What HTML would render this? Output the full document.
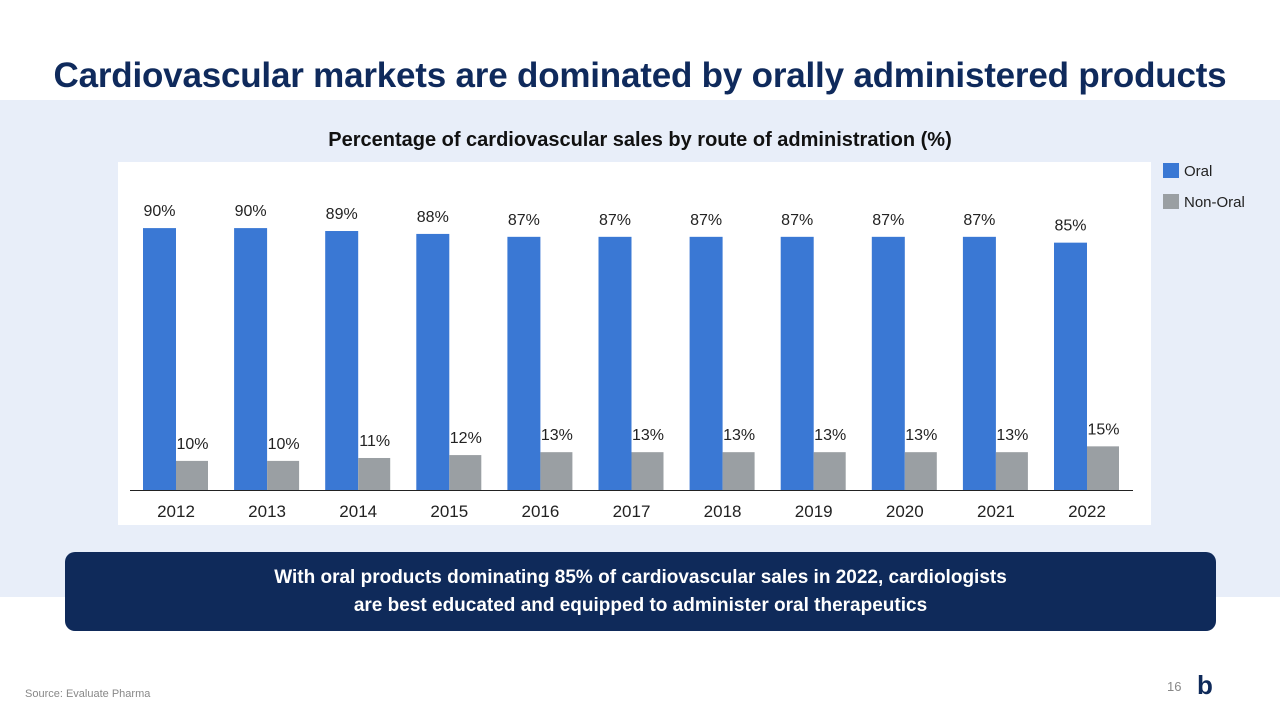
<!DOCTYPE html>
<html><head><meta charset="utf-8"><style>
body{margin:0;width:1280px;height:720px;background:#fff;position:relative;overflow:hidden;font-family:"Liberation Sans",Carlito,sans-serif}
.abs{position:absolute}
</style></head><body>
<div class="abs" style="left:0;width:1280px;top:56px;text-align:center;font-size:35px;font-weight:bold;color:#0f2a5c;letter-spacing:-0.2px">Cardiovascular markets are dominated by orally administered products</div>
<div class="abs" style="left:0;top:100px;width:1280px;height:497px;background:#e8eef9"></div>
<div class="abs" style="left:0;width:1280px;top:129px;text-align:center;font-size:20px;font-weight:bold;color:#111">Percentage of cardiovascular sales by route of administration (%)</div>
<svg class="abs" style="left:0;top:0" width="1280" height="720">
<rect x="118" y="162" width="1033" height="363" fill="#fff"></rect>
<g id="bars"></g>
<line x1="130" y1="490.5" x2="1133" y2="490.5" stroke="#222" stroke-width="1"></line>
<rect x="1163" y="163" width="16" height="15" fill="#3a78d4"></rect>
<text x="1184" y="176" font-size="15" fill="#222">Oral</text>
<rect x="1163" y="194" width="16" height="15" fill="#9a9fa3"></rect>
<text x="1184" y="207" font-size="15" fill="#222">Non-Oral</text>
</svg>
<div class="abs" style="left:65px;top:552px;width:1151px;height:79px;background:#0f2a5a;border-radius:10px;color:#fff;font-weight:bold;font-size:19px;text-align:center;line-height:28px;box-sizing:border-box;padding-top:12px">With oral products dominating 85% of cardiovascular sales in 2022, cardiologists<br>are best educated and equipped to administer oral therapeutics</div>
<div class="abs" style="left:25px;top:688px;font-size:11px;color:#888">Source: Evaluate Pharma</div>
<div class="abs" style="left:1167px;top:679px;font-size:13px;color:#888">16</div>
<div class="abs" style="left:1197px;top:670px;font-size:26px;font-weight:bold;color:#0f2a5a">b</div>
<script>
const categories=["2012","2013","2014","2015","2016","2017","2018","2019","2020","2021","2022"];
const oral=[90,90,89,88,87,87,87,87,87,87,85];
const nonOral=[10,10,11,12,13,13,13,13,13,13,15];
const g=document.getElementById('bars');
const NS='http://www.w3.org/2000/svg';
const base=490, pxPer=2.91, x0=143, step=91.1, bw=33;
const y=v=>base-v*pxPer;
function mk(t,a){const e=document.createElementNS(NS,t);for(const k in a)e.setAttribute(k,a[k]);g.appendChild(e);return e;}
categories.forEach((c,i)=>{
  const x=x0+i*step;
  const r1=mk('rect',{x:x,y:y(oral[i]),width:bw,height:base-y(oral[i]),fill:'#3a78d4'});
  
  
  const r2=mk('rect',{x:x+bw,y:y(nonOral[i]),width:bw-1,height:base-y(nonOral[i]),fill:'#9a9fa3'});
  
  
  const t1=mk('text',{x:x+bw/2,y:y(oral[i])-12,'font-size':16,fill:'#222','text-anchor':'middle'});
  t1.textContent=oral[i]+'%';
  
  
  const t2=mk('text',{x:x+bw*1.5,y:y(nonOral[i])-12,'font-size':16,fill:'#222','text-anchor':'middle'});
  t2.textContent=nonOral[i]+'%';
  
  
  const t3=mk('text',{x:x+bw,y:517,'font-size':17,fill:'#222','text-anchor':'middle'});
  t3.textContent=c;
  
  
});
</script>
</body></html>
